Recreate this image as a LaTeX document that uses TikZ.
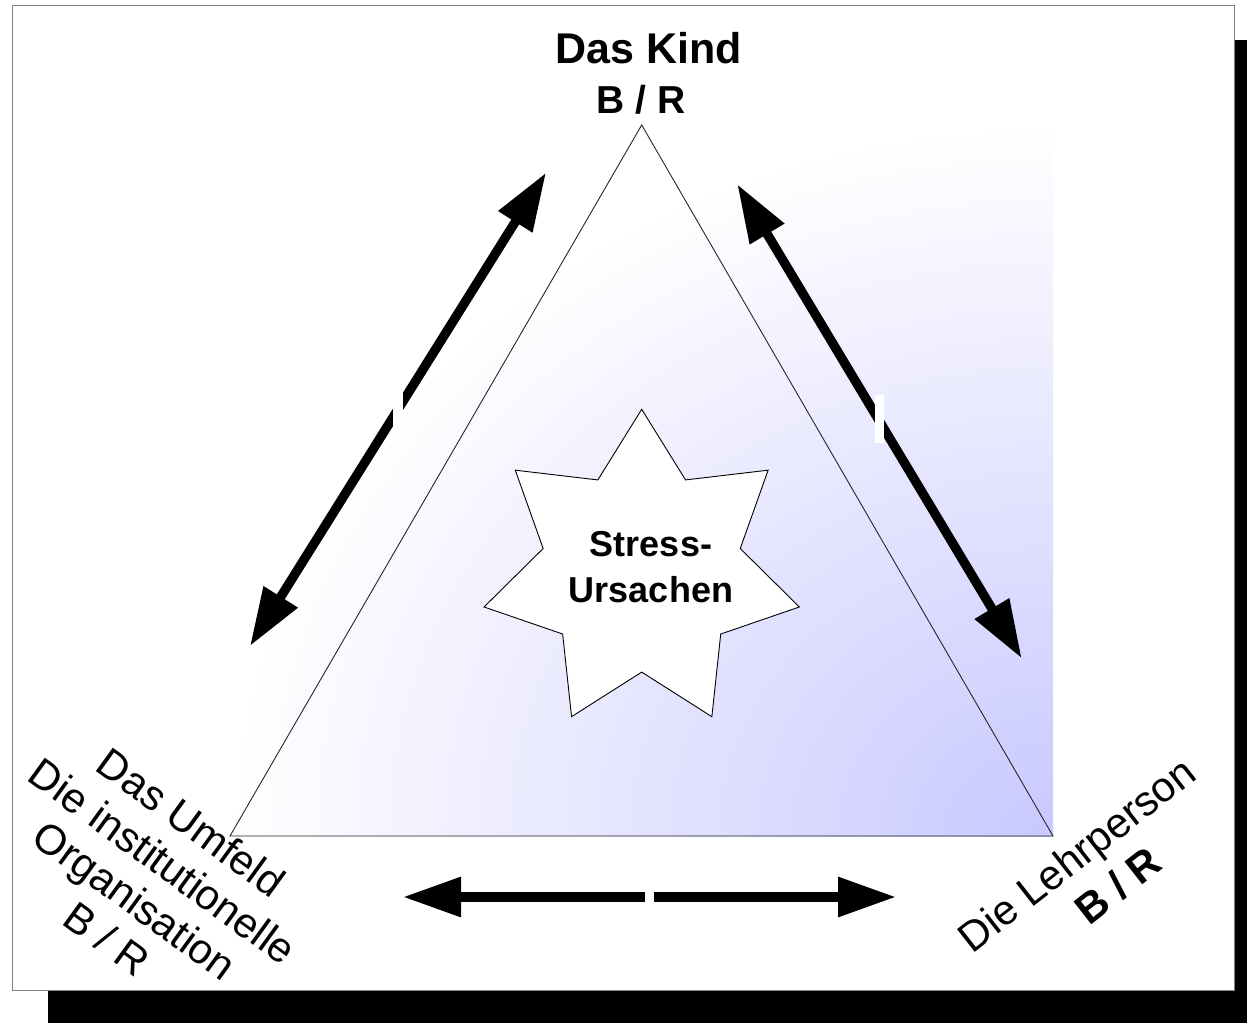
\documentclass[tikz,border=0pt]{standalone}
\usepackage{fontspec}
\setmainfont{Liberation Sans}
\usetikzlibrary{arrows.meta,shapes.geometric}
\definecolor{lavLR}{RGB}{200,200,255}
\definecolor{framegray}{RGB}{130,130,130}
\tikzset{
  dblarrow/.style={line width=9.3pt, {Triangle[length=58pt,width=38pt]}-{Triangle[length=58pt,width=38pt]}},
  gapbar/.style={fill=white, draw=none, minimum width=9.5pt, minimum height=48pt, inner sep=0pt},
  boldlbl/.style={inner sep=0pt, font=\bfseries},
}
\begin{document}
\begin{tikzpicture}[x=1pt,y=-1pt]
\useasboundingbox (0,0) rectangle (1247,1024);
% shadow and frame
\fill[black] (48,40) rectangle (1247,1023);
\draw[framegray, line width=1pt, fill=white] (12,5.5) rectangle (1234.5,990);
% gradient background (from the lower right corner)
\begin{scope}
  \clip (230,125) rectangle (1053,836);
  \shade[inner color=lavLR, outer color=white] (1053,836) ellipse [x radius=823, y radius=711];
\end{scope}
% triangle
\coordinate (apex) at (641.7,125);
\coordinate (bl) at (230,836);
\coordinate (br) at (1053,836);
\draw[line width=0.9pt, black!85] (apex) -- (bl) -- (br) -- cycle;
% star
\node[star, star points=7, star point ratio=1.6, minimum size=323.4pt, inner sep=0pt,
      draw, fill=white, line width=0.9pt] (stern) at (641.7,571) {};
\node[align=center, font=\fontsize{36}{46}\selectfont\bfseries, inner sep=0pt] (stress) at (651,567) {Stress-\\Ursachen};
% arrows
\coordinate (la) at (250,646);
\coordinate (lb) at (546,172.7);
\coordinate (ra) at (737.3,184.3);
\coordinate (rb) at (1021.7,658.3);
\coordinate (ba) at (403,897);
\coordinate (bb) at (896,897);
\draw[dblarrow] (la) -- (lb);
\draw[dblarrow] (ra) -- (rb);
\draw[dblarrow] (ba) -- (bb);
\node[gapbar] (gapL) at (398,409.5) {};
\node[gapbar] (gapR) at (879.5,419) {};
\node[gapbar] (gapB) at (649.5,897) {};
% labels
\node[boldlbl, font=\fontsize{43}{50}\selectfont\bfseries, anchor=base] (kind) at (649,63.3) {Das Kind};
\node[boldlbl, font=\fontsize{39}{50}\selectfont\bfseries, anchor=base] (kindbr) at (641,113.3) {B / R};
\node[align=center, font=\fontsize{42}{48}\selectfont, rotate=-36] (umfeld) at (149,880.5)
  {Das Umfeld\\Die institutionelle\\Organisation\\B / R};
\node[align=center, font=\fontsize{42}{50}\selectfont, rotate=38] (lehr) at (1092,874)
  {Die Lehrperson\\\hspace*{26pt}\textbf{B / R}};
\end{tikzpicture}
\end{document}
